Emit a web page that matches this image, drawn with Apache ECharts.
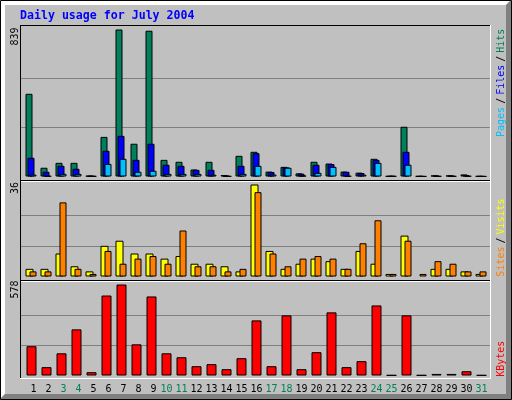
<!DOCTYPE html>
<html><head><meta charset="utf-8">
<script src="https://cdn.jsdelivr.net/npm/echarts@6/dist/echarts.min.js"></script>
<style>html,body{margin:0;padding:0;background:#c0c0c0}#c{width:512px;height:400px}</style>
</head><body><div id="c"></div>
<script>
const titleText = 'Daily usage for July 2004';
const days = ['1','2','3','4','5','6','7','8','9','10','11','12','13','14','15','16','17','18','19','20','21','22','23','24','25','26','27','28','29','30','31'];
const weekendDays = ['3','4','10','11','17','18','24','25','31'];
const hits   = [472,50,78,78,4,226,839,187,832,95,84,40,84,8,118,141,28,55,18,84,74,28,22,101,2,284,2,6,6,12,2];
const files  = [107,27,61,44,3,147,232,95,187,67,61,38,38,4,61,133,26,52,16,67,71,27,20,95,2,141,1,5,5,8,1];
const pages  = [11,3,15,15,2,72,101,27,33,15,15,15,10,2,15,61,11,50,5,21,55,3,10,78,2,67,1,2,2,3,1];
const visits = [3,3,9,4,2,12,14,9,9,7,8,5,5,4,2,36,10,3,5,7,6,3,10,5,1,16,0,3,3,2,1];
const sites  = [2,2,29,3,1,10,5,7,8,5,18,4,4,2,3,33,9,4,7,8,7,3,13,22,1,14,1,6,5,2,2];
const kbytes = [186,53,141,293,21,508,578,198,502,141,116,59,72,40,110,350,59,382,40,148,401,53,91,445,2,382,2,10,10,27,2];

const C = {green:'#00805c', blue:'#0000ff', cyan:'#00c0ff', yellow:'#ffff00', orange:'#ff8000', red:'#ff0000', grid:'#808080', bg:'#c0c0c0'};
const maxTop = Math.max(...hits, ...files, ...pages);
const maxMid = Math.max(...visits, ...sites);
const maxBot = Math.max(...kbytes);
const nz = a => a.map(v => v > 0 ? v : '-');
const MONO = 'DejaVu Sans Mono';

const chart = echarts.init(document.getElementById('c'), null, {renderer:'canvas'});

const barGrids = [
  {left:23.5, right:23.5, top:29.5, bottom:223.5},
  {left:23.5, right:23.5, top:184.5, bottom:123.5},
  {left:24, right:23, top:284.5, bottom:24.5}
];
const lineGrids = [
  {left:21, right:21, top:29.5, bottom:223.5},
  {left:21, right:21, top:184.5, bottom:123.5},
  {left:21, right:21, top:284.5, bottom:24.5}
];
const maxes = [maxTop, maxMid, maxBot];

const xAxes = [], yAxes = [];
for (let i = 0; i < 3; i++) {
  xAxes.push({type:'category', gridIndex:i, data:days, boundaryGap:true,
    show: i === 2,
    axisLine:{show:false}, axisTick:{show:false}, splitLine:{show:false},
    axisLabel: i === 2 ? {
      interval:0, margin:9, fontFamily:MONO, fontSize:10,
      formatter: v => '{' + (weekendDays.includes(v) ? 'w' : 'd') + (v.length < 2 ? '1' : '') + '|' + v + '}',
      rich:{
        d:{color:'#000', fontFamily:MONO, fontSize:10},
        w:{color:C.green, fontFamily:MONO, fontSize:10},
        d1:{color:'#000', fontFamily:MONO, fontSize:10, padding:[0,0,0,4]},
        w1:{color:C.green, fontFamily:MONO, fontSize:10, padding:[0,0,0,4]}
      }
    } : {show:false}
  });
  yAxes.push({type:'value', gridIndex:i, min:0, max:maxes[i], show:false});
}
for (let i = 0; i < 3; i++) {
  xAxes.push({type:'value', gridIndex:3+i, min:0, max:1, show:false});
  yAxes.push({type:'value', gridIndex:3+i, min:0, max:maxes[i], interval:maxes[i]/3,
    axisLine:{show:false}, axisTick:{show:false}, axisLabel:{show:false},
    splitLine:{show:true, showMinLine:false, showMaxLine:false, lineStyle:{color:C.grid, width:1}}
  });
}

const border = {borderColor:'#000', borderWidth:1};
function bar(name, data, axis, color, width, gap) {
  return {name, type:'bar', xAxisIndex:axis, yAxisIndex:axis, data, barWidth:width, barGap:gap,
    itemStyle:Object.assign({color}, border), silent:true, animation:false};
}
const series = [
  bar('Hits', nz(hits), 0, C.green, 7, '-71.4286%'),
  bar('Files', nz(files), 0, C.blue, 7, '-71.4286%'),
  bar('Pages', nz(pages), 0, C.cyan, 7, '-71.4286%'),
  bar('Visits', nz(visits), 1, C.yellow, 8, '-50%'),
  bar('Sites', nz(sites), 1, C.orange, 7, '-50%'),
  bar('KBytes', nz(kbytes), 2, C.red, 10, '0%')
];

function hline(x1, x2, y, color) {
  return {type:'line', silent:true, z:50, shape:{x1, y1:y, x2, y2:y}, style:{stroke:color, lineWidth:1}};
}
function vline(x, y1, y2, color) {
  return {type:'line', silent:true, z:50, shape:{x1:x, y1, x2:x, y2}, style:{stroke:color, lineWidth:1}};
}
function upText(txt, x, y, font, fill, rich) {
  const st = {text:txt, font, fill:fill || '#000', align:'center', verticalAlign:'middle', textAlign:'center', textVerticalAlign:'middle'};
  if (rich) st.rich = rich;
  return {type:'text', silent:true, z:60, x, y, rotation:Math.PI/2, style:st};
}
const F10 = '10px "' + MONO + '"';
const legendRich = {
  p:{fill:C.cyan, font:F10}, f:{fill:C.blue, font:F10}, h:{fill:C.green, font:F10},
  s:{fill:'#000', font:F10}, g:{fill:'#000', font:'5px "' + MONO + '"'},
  vi:{fill:C.yellow, font:F10}, si:{fill:C.orange, font:F10}, k:{fill:C.red, font:F10}
};

const graphics = [
  {type:'rect', silent:true, z:-100, shape:{x:0, y:0, width:512, height:400}, style:{fill:C.bg}},
  {type:'polygon', silent:true, z:-90, shape:{points:[[0,0],[511,0],[506,5],[5,5],[5,394],[0,399]]}, style:{fill:'#fff'}},
  {type:'polygon', silent:true, z:-90, shape:{points:[[511,0],[511,399],[0,399],[5,394],[506,394],[506,5]]}, style:{fill:C.grid}},
  {type:'rect', silent:true, z:-80, shape:{x:0.5, y:0.5, width:511, height:399}, style:{fill:'none', stroke:'#000', lineWidth:1}},
  hline(20, 491, 25.5, '#000'),
  vline(20.5, 25, 379, '#000'),
  vline(490.5, 25, 379, '#fff'),
  hline(20, 491, 378.5, '#fff'),
  hline(21, 490, 180.5, '#000'),
  hline(21, 490, 181.5, '#fff'),
  hline(21, 490, 280.5, '#000'),
  hline(21, 490, 281.5, '#fff'),
  {type:'text', silent:true, z:60, x:20, y:15.5, style:{text:titleText, font:'bold 11.6px "' + MONO + '"', fill:C.blue, align:'left', verticalAlign:'middle', textAlign:'left', textVerticalAlign:'middle'}},
  upText(String(maxTop), 15, 36.5, F10, '#000'),
  upText(String(maxMid), 15, 188, F10, '#000'),
  upText(String(maxBot), 15, 289.5, F10, '#000'),
  upText('{p|Pages}{g| }{s|/}{g| }{f|Files}{g| }{s|/}{g| }{h|Hits}', 501, 82.8, F10, '#000', legendRich),
  upText('{si|Sites}{g| }{s|/}{g| }{vi|Visits}', 501, 237.5, F10, '#000', legendRich),
  upText('{k|KBytes}', 501, 358.7, F10, C.red, legendRich)
];

chart.setOption({
  animation:false,
  backgroundColor:C.bg,
  grid: barGrids.concat(lineGrids),
  xAxis: xAxes,
  yAxis: yAxes,
  series,
  graphic: {elements: graphics}
});
</script>
</body></html>
